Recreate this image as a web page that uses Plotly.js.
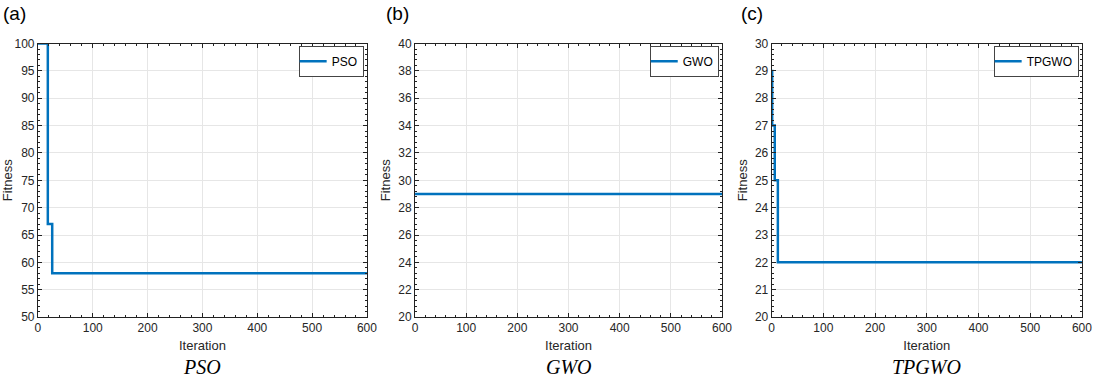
<!DOCTYPE html>
<html>
<head>
<meta charset="utf-8">
<script src="https://cdn.plot.ly/plotly-3.0.1.min.js"></script>
<style>html,body{margin:0;padding:0;background:#fff;}#chart{width:1100px;height:382px;}</style>
</head>
<body>
<div id="chart"></div>
<script>
// Data
const psoIter = [0, 18, 26, 600];
const psoFit = [100, 67, 58, 58];
const gwoIter = [0, 600];
const gwoFit = [29, 29];
const tpgwoIter = [0, 1, 6, 12, 600];
const tpgwoFit = [29, 27, 25, 22, 22];
const seriesNames = ["PSO", "GWO", "TPGWO"];
const panelLabels = ["(a)", "(b)", "(c)"];
const yRanges = [[50, 100], [20, 40], [20, 30]];
const yDticks = [5, 2, 1];
const yMinorDticks = [1, 0.4, 0.2];

const lineColor = "#0072BD";
const tickColor = "#262626";
const fam = "Liberation Sans, Arial, sans-serif";
const mkFont = (s, c) => ({family: fam, size: s, color: c || tickColor});

const xDomains = [[0.0345, 0.3336], [0.3773, 0.6564], [0.7015, 0.9836]];
const yDomain = [0.170, 0.886];

const traces = [
  {x: psoIter, y: psoFit, name: seriesNames[0], xaxis: "x", yaxis: "y", legend: "legend"},
  {x: gwoIter, y: gwoFit, name: seriesNames[1], xaxis: "x2", yaxis: "y2", legend: "legend2"},
  {x: tpgwoIter, y: tpgwoFit, name: seriesNames[2], xaxis: "x3", yaxis: "y3", legend: "legend3"}
].map(t => Object.assign(t, {type: "scatter", mode: "lines", line: {color: lineColor, width: 2.5, shape: "hv"}, showlegend: true, cliponaxis: false}));

function xAxis(i) {
  return {
    domain: xDomains[i], anchor: i === 0 ? "y" : "y" + (i + 1),
    range: [0, 600], dtick: 100, tick0: 0,
    ticks: "inside", ticklen: 4, tickcolor: "#222", tickwidth: 1,
    minor: {ticks: "inside", dtick: 20, ticklen: 2, tickcolor: "#222", showgrid: false},
    showline: true, linecolor: "#222", linewidth: 1, mirror: "allticks",
    showgrid: true, gridcolor: "#e6e6e6", gridwidth: 1, zeroline: false,
    tickfont: mkFont(12),
    title: {text: "Iteration", font: mkFont(13), standoff: 6}
  };
}
function yAxis(i) {
  return {
    domain: yDomain, anchor: i === 0 ? "x" : "x" + (i + 1),
    range: yRanges[i], dtick: yDticks[i], tick0: yRanges[i][0],
    ticks: "inside", ticklen: 4, tickcolor: "#222", tickwidth: 1,
    minor: {ticks: "inside", dtick: yMinorDticks[i], ticklen: 2, tickcolor: "#222", showgrid: false},
    showline: true, linecolor: "#222", linewidth: 1, mirror: "allticks",
    showgrid: true, gridcolor: "#e6e6e6", gridwidth: 1, zeroline: false,
    tickfont: mkFont(12),
    title: {text: "Fitness", font: mkFont(13), standoff: 4}
  };
}
function legend(i) {
  return {
    x: xDomains[i][1] - 0.003, xanchor: "right", xref: "paper",
    y: yDomain[1] - 0.006, yanchor: "top", yref: "paper",
    bgcolor: "#fff", bordercolor: "#444", borderwidth: 1,
    font: mkFont(12, "#000"),
    itemwidth: 30, tracegroupgap: 0, indentation: -8
  };
}

const bottomTitleX = xDomains.map(d => (d[0] + d[1]) / 2);
const annotations = [];
panelLabels.forEach((lab, i) => {
  annotations.push({text: lab, xref: "paper", yref: "paper", x: [0.001, 0.349, 0.672][i], y: 0.997,
    xanchor: "left", yanchor: "top", showarrow: false,
    font: mkFont(19, "#000")});
  annotations.push({text: seriesNames[i], xref: "paper", yref: "paper", x: bottomTitleX[i], y: 0.005,
    xanchor: "center", yanchor: "bottom", showarrow: false,
    font: {family: "Liberation Serif, Times New Roman, serif", size: 20, color: "#000", style: "italic"}});
});

const layout = {
  width: 1100, height: 382,
  margin: {l: 0, r: 0, t: 0, b: 0},
  paper_bgcolor: "#fff", plot_bgcolor: "#fff",
  showlegend: true,
  xaxis: xAxis(0), xaxis2: xAxis(1), xaxis3: xAxis(2),
  yaxis: yAxis(0), yaxis2: yAxis(1), yaxis3: yAxis(2),
  legend: legend(0), legend2: legend(1), legend3: legend(2),
  annotations: annotations
};

Plotly.newPlot("chart", traces, layout, {staticPlot: true, displayModeBar: false});
</script>
</body>
</html>
